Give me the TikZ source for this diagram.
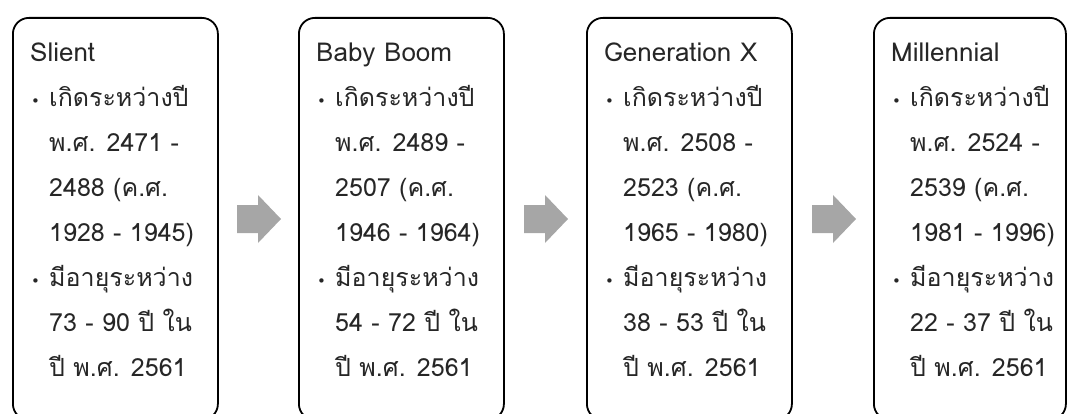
\documentclass[tikz,border=0pt]{standalone}
\usepackage{fontspec}
\newfontfamily\thaifont[Script=Thai]{Loma}
\newfontfamily\dvs{DejaVu Sans}
\definecolor{arrowgray}{HTML}{A6A6A6}
\definecolor{textgray}{HTML}{262626}
\newcommand\bul{\makebox[19pt][l]{\hspace{1pt}{\dvs\fontsize{15}{45}\selectfont •}}}
\newcommand\ind{\hspace{19pt}}
\newcommand\ttl[1]{{\fontsize{26}{45}\selectfont #1}}
\begin{document}
\begin{tikzpicture}[x=1pt,y=-1pt,
  genbox/.style={draw=black, line width=1.8pt, rounded corners=16pt,
    minimum width=205pt, minimum height=402pt, anchor=north west, inner sep=0pt},
  txt/.style={anchor=base west, align=left, inner sep=0pt, text=textgray,
    font=\thaifont\fontsize{25}{45}\selectfont},
  garrow/.style={fill=arrowgray, draw=none}]
\useasboundingbox (0,0) rectangle (1067,414);

\node[genbox] (b1) at (12,17) {};
\node[genbox] (b2) at (298,17) {};
\node[genbox] (b3) at (586,17) {};
\node[genbox, minimum width=192pt] (b4) at (873,17) {};

\node[txt] (t1) at (30,376) {\ttl{Slient}\\
\bul เกิดระหว่างปี\\
\ind พ.ศ. 2471 -\\
\ind 2488 (ค.ศ.\\
\ind 1928 - 1945)\\
\bul มีอายุระหว่าง\\
\ind 73 - 90 ปี ใน\\
\ind ปี พ.ศ. 2561};

\node[txt] (t2) at (316,376) {\ttl{Baby Boom}\\
\bul เกิดระหว่างปี\\
\ind พ.ศ. 2489 -\\
\ind 2507 (ค.ศ.\\
\ind 1946 - 1964)\\
\bul มีอายุระหว่าง\\
\ind 54 - 72 ปี ใน\\
\ind ปี พ.ศ. 2561};

\node[txt] (t3) at (604,376) {\ttl{Generation X}\\
\bul เกิดระหว่างปี\\
\ind พ.ศ. 2508 -\\
\ind 2523 (ค.ศ.\\
\ind 1965 - 1980)\\
\bul มีอายุระหว่าง\\
\ind 38 - 53 ปี ใน\\
\ind ปี พ.ศ. 2561};

\node[txt] (t4) at (891,376) {\ttl{Millennial}\\
\bul เกิดระหว่างปี\\
\ind พ.ศ. 2524 -\\
\ind 2539 (ค.ศ.\\
\ind 1981 - 1996)\\
\bul มีอายุระหว่าง\\
\ind 22 - 37 ปี ใน\\
\ind ปี พ.ศ. 2561};

\coordinate (a1) at (259,219);
\coordinate (a2) at (546,219);
\coordinate (a3) at (834,219);
\foreach \a in {a1,a2,a3}
  \fill[garrow] (\a) ++(-22,-14) -- ++(21,0) -- ++(0,-10) -- ++(23,24)
    -- ++(-23,24) -- ++(0,-10) -- ++(-21,0) -- cycle;
\end{tikzpicture}
\end{document}
